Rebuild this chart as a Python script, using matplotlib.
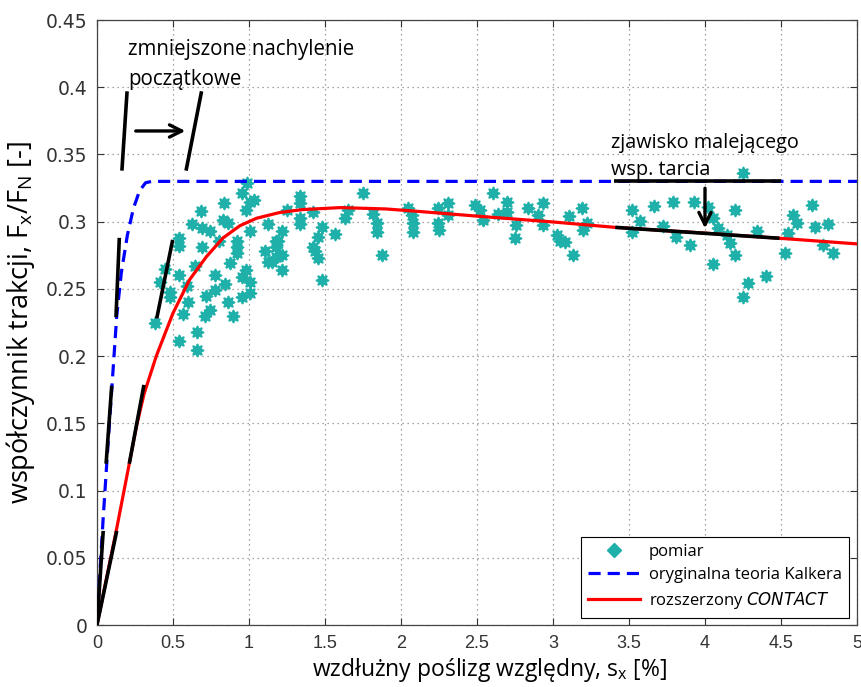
import numpy as np
import matplotlib
matplotlib.use("Agg")
import matplotlib.pyplot as plt
from matplotlib.lines import Line2D

# measured points (slip %, traction coefficient)
pomiar_x = [0.985, 0.952, 1.007, 0.98, 0.836, 0.684, 0.83, 0.864, 0.623, 0.689,
            0.743, 0.80, 1.007, 1.127, 1.18, 0.54, 0.54, 0.689, 0.919, 0.919,
            0.919, 0.875, 1.105, 1.127, 0.645, 0.776, 0.98, 0.952, 1.007, 0.447,
            0.414, 0.54, 0.48, 0.48, 0.59, 0.776, 0.842, 0.72, 0.60, 0.864,
            0.952, 1.007, 0.743, 0.71, 0.568, 0.897, 0.382, 0.656, 0.54, 0.66,
            1.03, 1.336, 1.336, 1.336, 1.336, 1.248, 1.423, 1.215, 1.193, 1.18,
            1.215, 1.149, 1.215, 1.478, 1.456, 1.423, 1.434, 1.456, 1.566, 1.478,
            1.653, 1.632, 1.752, 1.818, 1.84, 1.84, 1.873, 2.048, 2.07, 2.08,
            2.077, 2.246, 2.246, 2.25, 2.31, 2.31, 2.487, 2.52, 2.54, 2.607,
            2.695, 2.695, 2.64, 2.757, 2.75, 2.837, 2.903, 2.932, 2.932, 3.024,
            3.046, 3.079, 3.107, 3.13, 3.189, 3.195, 3.226, 3.518, 3.518, 3.572,
            3.664, 3.726, 3.787, 3.809, 3.90, 3.928, 4.252, 4.022, 4.055, 4.088,
            4.143, 4.164, 4.197, 4.197, 4.05, 4.34, 4.285, 4.252, 4.401, 4.526,
            4.548, 4.577, 4.607, 4.702, 4.724, 4.811, 4.778, 4.844, 1.18]
pomiar_y = [0.329, 0.321, 0.315, 0.309, 0.314, 0.308, 0.301, 0.299, 0.298, 0.295,
            0.293, 0.286, 0.293, 0.298, 0.286, 0.288, 0.282, 0.281, 0.286, 0.2815,
            0.2766, 0.269, 0.278, 0.270, 0.267, 0.260, 0.264, 0.259, 0.255, 0.265,
            0.255, 0.260, 0.248, 0.244, 0.252, 0.249, 0.254, 0.245, 0.2406, 0.2406,
            0.244, 0.247, 0.234, 0.230, 0.2314, 0.230, 0.225, 0.218, 0.211, 0.2046,
            0.316, 0.319, 0.314, 0.303, 0.298, 0.309, 0.3076, 0.293, 0.286, 0.2815,
            0.275, 0.270, 0.264, 0.296, 0.289, 0.2815, 0.278, 0.273, 0.291, 0.257,
            0.309, 0.3026, 0.3217, 0.306, 0.299, 0.2927, 0.275, 0.31, 0.305, 0.299,
            0.2927, 0.31, 0.299, 0.294, 0.314, 0.305, 0.3125, 0.309, 0.301, 0.321,
            0.315, 0.3076, 0.306, 0.2976, 0.2877, 0.31, 0.305, 0.3137, 0.2976, 0.290,
            0.286, 0.285, 0.304, 0.275, 0.31, 0.294, 0.2994, 0.309, 0.2927, 0.3003,
            0.3118, 0.297, 0.3145, 0.2885, 0.2827, 0.3145, 0.336, 0.311, 0.303, 0.295,
            0.290, 0.284, 0.275, 0.309, 0.2686, 0.293, 0.2547, 0.2443, 0.2597, 0.277,
            0.2914, 0.305, 0.2994, 0.3125, 0.2964, 0.2984, 0.2827, 0.277, 0.274]

# original Kalker theory
kalker_x = [0, 0.02, 0.04, 0.07, 0.10, 0.13, 0.16, 0.20, 0.24, 0.28, 0.32, 0.36, 5.0]
kalker_y = [0, 0.04, 0.078, 0.13, 0.18, 0.23, 0.262, 0.29, 0.31, 0.323, 0.329, 0.33, 0.33]

# extended CONTACT
contact_x = [0, 0.13, 0.2125, 0.26, 0.31, 0.39, 0.5, 0.61, 0.72, 0.83, 0.94, 1.05,
             1.2, 1.35, 1.6, 1.9, 2.1, 2.54, 2.98, 3.41, 4.0, 4.49, 5.0]
contact_y = [0, 0.072, 0.12, 0.148, 0.172, 0.2, 0.232, 0.257, 0.274, 0.288, 0.297, 0.3026,
             0.3068, 0.309, 0.3105, 0.3095, 0.3078, 0.3038, 0.300, 0.2958, 0.2915, 0.2877, 0.2835]

# black tangent segments (initial slope), [x0, x1], [y0, y1]
steep_segs = [([0, 0.041], [0, 0.07]), ([0.06, 0.097], [0.12, 0.178]),
              ([0.125, 0.147], [0.229, 0.288]), ([0.164, 0.198], [0.338, 0.397])]
shallow_segs = [([0, 0.13], [0, 0.07]), ([0.2125, 0.309], [0.12, 0.1786]),
                ([0.393, 0.498], [0.228, 0.2865]), ([0.586, 0.688], [0.338, 0.397])]
# decreasing friction segments
friction_segs = [([3.4, 4.5], [0.33, 0.33]), ([3.41, 4.49], [0.2958, 0.2877])]

teal = "#20b0aa"
label_font = "Open Sans"

fig = plt.figure(figsize=(8.62, 6.87), dpi=100)
ax = fig.add_axes([0.1125, 0.0902, 0.8817, 0.8806])

ax.scatter(pomiar_x, pomiar_y, marker=(8, 1, 0), s=70, color=teal, linewidths=1.6,
           edgecolors=teal, zorder=3)
ax.plot(kalker_x, kalker_y, color="#0000ff", lw=2.3, dashes=(3.8, 2.2), zorder=4)
ax.plot(contact_x, contact_y, color="#ff0000", lw=2.3, zorder=4)

for sx, sy in steep_segs + shallow_segs:
    ax.plot(sx, sy, color="black", lw=2.6, solid_capstyle="butt", zorder=5)
for sx, sy in friction_segs:
    ax.plot(sx, sy, color="black", lw=2.6, solid_capstyle="butt", zorder=5)

# arrows
ax.annotate("", xy=(0.60, 0.3675), xytext=(0.237, 0.3675),
            arrowprops=dict(arrowstyle="->", lw=2.4, color="black", mutation_scale=22))
ax.annotate("", xy=(4.0, 0.293), xytext=(4.0, 0.327),
            arrowprops=dict(arrowstyle="->", lw=2.4, color="black", mutation_scale=22))

ax.text(0.204, 0.4241, "zmniejszone nachylenie", fontsize=14.8, family=label_font, va="baseline")
ax.text(0.204, 0.4018, "początkowe", fontsize=14.8, family=label_font, va="baseline")
ax.text(3.382, 0.355, "zjawisko malejącego", fontsize=14.3, family=label_font, va="baseline")
ax.text(3.382, 0.335, "wsp. tarcia", fontsize=14.3, family=label_font, va="baseline")

ax.set_xlim(0, 5)
ax.set_ylim(0, 0.45)
ax.set_xticks(np.arange(0, 5.01, 0.5))
ax.set_xticklabels(["0", "0.5", "1", "1.5", "2", "2.5", "3", "3.5", "4", "4.5", "5"])
ax.set_yticks(np.arange(0, 0.451, 0.05))
ax.set_yticklabels(["0", "0.05", "0.1", "0.15", "0.2", "0.25", "0.3", "0.35", "0.4", "0.45"])
ax.grid(True, ls=(0, (1, 3)), color="#888888", lw=0.9)
ax.tick_params(direction="in", top=True, right=True, length=5, width=0.8,
               colors="#333333", pad=7)
ax.tick_params(axis="x", labelsize=13)
ax.tick_params(axis="y", labelsize=13.5)
for lab in ax.get_xticklabels():
    lab.set_family("Liberation Sans")
for lab in ax.get_yticklabels():
    lab.set_family("DejaVu Sans")
for sp in ax.spines.values():
    sp.set_color("#444444")
    sp.set_linewidth(0.9)

ax.set_xlabel(r"wzdłużny poślizg względny, s$_\mathregular{x}$ [%]", fontsize=16.5,
              family=label_font)
ax.xaxis.set_label_coords(0.516, -0.052)
ax.set_ylabel(r"współczynnik trakcji, F$_\mathregular{x}$/F$_\mathregular{N}$ [-]", fontsize=19.5,
              family=label_font, labelpad=6)

handles = [Line2D([], [], marker="D", color=teal, ls="none", markersize=7),
           Line2D([], [], color="#0000ff", lw=2.3, dashes=(3.8, 2.2)),
           Line2D([], [], color="#ff0000", lw=2.3)]
labels = ["pomiar", "oryginalna teoria Kalkera", "rozszerzony $\\it{CONTACT}$"]
leg = ax.legend(handles, labels, loc="lower right", bbox_to_anchor=(0.989, 0.012),
                borderaxespad=0, fancybox=False, framealpha=1, edgecolor="black",
                prop={"family": label_font, "size": 12}, handlelength=3.1,
                labelspacing=0.42, borderpad=0.4, handletextpad=0.55)
leg.get_frame().set_linewidth(0.8)
leg.set_zorder(10)

fig.savefig("out.png", dpi=100)
